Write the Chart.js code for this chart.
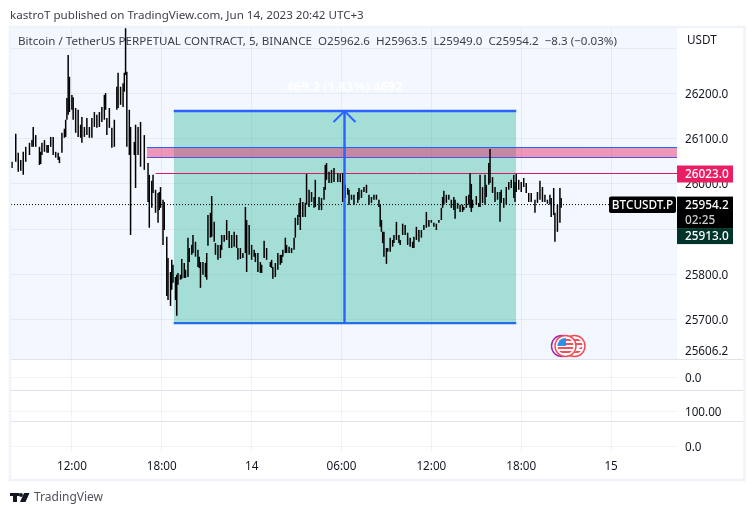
<!DOCTYPE html>
<html><head><meta charset="utf-8">
<style>html,body{margin:0;padding:0;background:#fff}canvas{display:block}</style>
<script src="https://cdn.jsdelivr.net/npm/chart.js@4"></script>
</head><body><canvas id="c" width="755" height="515"></canvas>
<script>
// 5-minute bar number, 0 = Jun 13 12:00
const barIdx=[-48,-45,-43,-41,-39,-37,-34,-32,-31,-29,-26,-25,-24,-22,-20,-19,-17,-15,-13,-11,-10,-8,-6,-5,-4,-3,-2,0,1,3,5,7,8,10,12,14,16,18,20,22,24,26,27,28,30,32,34,36,37,39,41,42,43,44,46,47,50,51,53,55,58,61,62,64,65,67,69,70,71,73,74,76,77,79,80,81,83,84,85,87,88,90,91,93,94,96,97,99,101,102,103,105,107,108,109,111,112,114,115,117,119,120,122,124,126,128,130,132,133,135,137,139,140,142,144,146,147,149,151,152,154,156,159,160,161,163,165,167,168,169,171,172,174,176,178,179,181,182,183,185,187,188,190,192,194,195,198,200,202,203,204,206,208,210,213,215,217,219,221,222,224,226,229,230,232,234,236,238,240,242,244,246,247,248,249,250,252,253,255,257,258,260,262,263,265,267,269,271,273,274,276,278,280,282,284,286,288,290,292,294,296,297,298,300,302,304,306,307,309,311,313,314,316,318,319,320,321,324,326,327,329,331,332,334,335,337,339,341,343,344,346,348,350,352,354,355,356,358,360,362,364,366,368,371,373,375,377,379,381,383,384,386,387,389,391,392];
const highs=[26049,26111,26069,26053,26071,26082,26091,26097,26126,26108,26082,26071,26091,26097,26086,26086,26104,26104,26071,26069,26060,26113,26122,26142,26190,26285,26237,26197,26192,26168,26164,26131,26148,26126,26146,26126,26146,26159,26153,26159,26170,26197,26201,26146,26168,26124,26142,26215,26246,26215,26223,26246,26345,26248,26164,26126,26093,26131,26126,26137,26108,26046,26020,26007,26020,25987,25980,25982,25993,25965,25960,25883,25836,25805,25832,25821,25794,25799,25803,25799,25834,25825,25810,25881,25858,25865,25887,25872,25854,25839,25827,25827,25825,25847,25931,25936,25973,25916,25869,25865,25865,25887,25887,25920,25896,25887,25894,25887,25858,25858,25847,25949,25920,25909,25865,25854,25847,25847,25827,25821,25874,25858,25827,25832,25816,25825,25847,25843,25843,25854,25881,25865,25861,25858,25881,25925,25931,25958,25969,25960,25958,26022,25987,25982,25971,26009,25971,25969,25993,26042,26046,26027,26031,26035,26024,26022,26024,25998,25991,25987,25976,25976,25982,25991,25987,25993,25998,25976,25971,25976,25976,25965,25954,25920,25894,25894,25858,25858,25881,25876,25887,25916,25887,25876,25912,25909,25892,25881,25872,25883,25905,25898,25898,25909,25938,25920,25920,25914,25912,25920,25947,25971,25985,25976,25976,25965,25971,25965,25958,25954,25954,25949,25973,25976,26024,26000,25965,25973,25958,26020,25993,26020,25998,26046,26077,26015,25993,25982,25982,25987,25969,25993,26004,26009,26020,26004,26022,26009,26004,26013,26002,25980,25980,25965,25982,26007,25993,25976,25965,25976,25969,25991,25936,25954,25991,25969];
const lows=[26035,26049,26027,26029,26020,26049,26064,26082,26082,26082,26042,26044,26064,26071,26069,26069,26082,26064,26058,26053,26046,26069,26102,26104,26142,26153,26159,26164,26142,26113,26104,26102,26091,26104,26108,26102,26102,26126,26124,26126,26137,26142,26164,26108,26124,26080,26082,26164,26168,26175,26170,26204,26241,26082,26064,25887,26064,25991,26064,26038,26031,25960,25903,25947,25980,25936,25914,25942,25947,25865,25898,25752,25743,25730,25766,25781,25743,25708,25777,25788,25790,25792,25792,25794,25827,25843,25847,25839,25816,25814,25770,25799,25794,25788,25863,25881,25883,25872,25843,25832,25836,25854,25872,25876,25858,25858,25861,25858,25832,25834,25836,25847,25805,25843,25832,25839,25827,25805,25803,25803,25836,25832,25816,25814,25790,25794,25810,25821,25825,25839,25847,25847,25847,25847,25854,25881,25909,25927,25898,25927,25927,25954,25949,25960,25947,25949,25942,25942,25965,25987,26009,26002,26002,26004,26004,26004,25960,25969,25976,25954,25965,25954,25958,25965,25969,25982,25980,25954,25958,25965,25965,25949,25905,25894,25869,25839,25823,25850,25850,25861,25869,25876,25869,25865,25887,25887,25865,25861,25858,25858,25876,25872,25881,25898,25903,25905,25914,25905,25898,25914,25920,25947,25954,25958,25965,25947,25942,25923,25945,25938,25938,25942,25947,25954,25947,25938,25947,25954,25949,25949,25958,25954,25971,25998,26002,25980,25960,25965,25916,25958,25947,25954,25987,25991,25969,25960,25982,25987,25982,25993,25980,25960,25960,25936,25958,25965,25960,25960,25956,25954,25927,25931,25872,25894,25914,25947];
const priceTicks=[25700,25800,25900,26000,26100,26200];
const timeTickBars=[0,72,144,216,288,360,432];
const timeTickLabels=['12:00','18:00','14','06:00','12:00','18:00','15'];
const zoneStartBar=81.6, zoneEndBar=356, zoneHigh=26161.2, zoneLow=25692, arrowBar=218.4, arrowWingPrice=26137, arrowWingBars=8.8;
const bandHigh=26080.5, bandLow=26058.4, bandStartBar=60;
const resistance=26023, resistanceStartBar=67;
const lastPrice=25954.2, priceLow=25913;
const xMin=-48.8, xMax=484.8, yMin=25612.5, yMax=26345;

const FONT='"Noto Sans"';
const ink='#131722';
function pts(xs,ys){return xs.map((x,i)=>({x,y:ys[i]}));}
function line(xs,ys,extra){return Object.assign({type:'line',data:pts(xs,ys),xAxisID:'x',yAxisID:'y',borderWidth:1,pointRadius:0,tension:0,fill:false},extra);}

const paint={id:'paint',
 beforeDraw(ch){const c=ch.ctx,a=ch.chartArea,s=ch.scales.y;
  c.save();c.fillStyle='#fff';c.fillRect(0,0,755,515);
  c.fillStyle='#f3f7ff';c.fillRect(a.left,s.top,a.right-a.left,s.bottom-s.top);
  c.restore();},
 afterDraw(ch){const c=ch.ctx,a=ch.chartArea,y=ch.scales.y,x=ch.scales.x;
  c.save();
  // pane separators and frame
  c.strokeStyle='#e0e3eb';c.lineWidth=1;
  [y.bottom,ch.scales.y2.bottom,ch.scales.y3.bottom].forEach(v=>{c.beginPath();c.moveTo(a.left,Math.round(v)+.5);c.lineTo(744,Math.round(v)+.5);c.stroke();});
  c.strokeStyle='#f0f3fa';c.lineWidth=2.5;c.strokeRect(10,27,734.5,453);
  c.textBaseline='middle';c.textAlign='left';
  c.font='11.6px '+FONT;c.fillStyle='#3b3f4a';
  c.fillText('kastroT published on TradingView.com, Jun 14, 2023 20:42 UTC+3',10,15.5);
  c.fillText('Bitcoin / TetherUS PERPETUAL CONTRACT, 5, BINANCE  O25962.6  H25963.5  L25949.0  C25954.2  \u22128.3 (\u22120.03%)',18,42);
  c.font='11.7px '+FONT;c.fillStyle=ink;
  c.fillText('USDT',687,41);
  c.fillText('25606.2',685,352);
  // measure label
  c.font='bold 13px '+FONT;c.fillStyle='rgba(255,255,255,.95)';c.textAlign='center';
  c.fillText('469.2 (1.83%) 4692',x.getPixelForValue(arrowBar),87);
  // currency-event icons
  const ey=346;
  c.lineWidth=1.5;c.strokeStyle='#9c27b0';c.fillStyle='#fff';c.beginPath();c.arc(562,ey,10.5,0,7);c.fill();c.stroke();
  c.strokeStyle='#f44a55';c.lineWidth=1.5;c.beginPath();c.arc(574.5,ey,10.5,0,7);c.fill();c.stroke();
  c.beginPath();c.arc(565.5,ey,10.5,0,7);c.fill();c.stroke();
  c.save();c.beginPath();c.arc(565.5,ey,8,0,7);c.clip();
  c.fillStyle='#fff';c.fillRect(556,337,20,18);
  c.fillStyle='#f0525c';[339,343,347,351].forEach(v=>c.fillRect(556,v,20,2));
  c.fillStyle='#2f8fe8';c.fillRect(557,338,9,8);c.restore();
  c.save();c.beginPath();c.arc(574.5,ey,8,0,7);c.arc(565.5,ey,10.5,0,7,true);c.clip('evenodd');
  c.fillStyle='#f0525c';[339,343,347,351].forEach(v=>c.fillRect(570,v,14,2));c.restore();
  // price badges
  const py=v=>y.getPixelForValue(v);
  c.textAlign='left';c.font='500 11.8px '+FONT;
  c.fillStyle='#e91e63';c.fillRect(677,py(resistance)-8,56,17);
  c.fillStyle='#fff';c.fillText(resistance.toFixed(1),685,py(resistance)+1);
  c.fillStyle='#000';c.beginPath();c.roundRect(609,py(lastPrice)-8,67,16.5,2);c.fill();
  c.fillStyle='#fff';c.textAlign='center';c.fillText('BTCUSDT.P',642.5,py(lastPrice)+1);
  c.textAlign='left';
  c.fillStyle='#000';c.fillRect(677,py(lastPrice)-8,56,31.5);
  c.fillStyle='#fff';c.fillText(lastPrice.toFixed(1),685,py(lastPrice)+1);
  c.fillStyle='#ccc';c.fillText('02:25',685,py(lastPrice)+16);
  c.fillStyle='#00332a';c.fillRect(677,py(lastPrice)+23.5,56,16);
  c.fillStyle='#fff';c.fillText(priceLow.toFixed(1),685,py(lastPrice)+32);
  // footer logo and name
  c.fillStyle='#131722';
  c.fillRect(10,493,9.5,3);c.fillRect(13,493,4,9);
  c.beginPath();c.arc(21,495,1.9,0,7);c.fill();
  c.beginPath();c.moveTo(24,493);c.lineTo(29.5,493);c.lineTo(25.5,502);c.lineTo(20,502);c.closePath();c.fill();
  c.fillStyle='#50535e';c.font='12px '+FONT;c.fillText('TradingView',34,497.5);
  c.restore();
 }};

function subScale(min,max,tick,digits,weight){return {type:'linear',position:'right',stack:'p',stackWeight:weight,offset:false,min,max,
  afterBuildTicks:s=>{s.ticks=[{value:tick}];},
  afterFit:s=>{s.width=67;},
  grid:{color:'rgba(42,46,57,.06)',drawTicks:false},border:{display:false},
  ticks:{color:ink,font:{family:FONT,size:11.7},padding:8,labelOffset:1.5,callback:v=>v.toFixed(digits)}};}

new Chart(document.getElementById('c'),{
 data:{datasets:[
  line([xMin,xMax],[lastPrice,lastPrice],{borderColor:'#000',borderDash:[1,2],order:6}),
  line([arrowBar,arrowBar],[zoneLow,zoneHigh],{borderColor:'#2962ff',borderWidth:2.4,order:1}),
  line([arrowBar-arrowWingBars,arrowBar,arrowBar+arrowWingBars],[arrowWingPrice,zoneHigh,arrowWingPrice],{borderColor:'#2962ff',borderWidth:2,order:1}),
  line([zoneStartBar,zoneEndBar],[zoneHigh,zoneHigh],{borderColor:'#2962ff',borderWidth:2.4,fill:'+1',backgroundColor:'rgba(0,171,130,.32)',order:10}),
  line([zoneStartBar,zoneEndBar],[zoneLow,zoneLow],{borderColor:'#2962ff',borderWidth:2.4,order:10}),
  line([bandStartBar,xMax],[bandHigh,bandHigh],{borderColor:'#2962ff',fill:'+1',backgroundColor:'rgba(233,30,99,.45)',order:9}),
  line([bandStartBar,xMax],[bandLow,bandLow],{borderColor:'#2962ff',order:9}),
  line([resistanceStartBar,xMax],[resistance,resistance],{borderColor:'#d81b60',order:8}),
  {type:'bar',label:'BTCUSDT.P',data:barIdx.map((b,i)=>({x:b,y:[lows[i],highs[i]]})),xAxisID:'x',yAxisID:'y',backgroundColor:'#000',barThickness:1.5,inflateAmount:0,grouped:false,order:5}
 ]},
 options:{responsive:false,animation:false,devicePixelRatio:1,
  layout:{padding:{left:11,top:28,right:11,bottom:37}},
  plugins:{legend:{display:false},tooltip:{enabled:false}},
  scales:{
   x:{type:'linear',min:xMin,max:xMax,position:'bottom',offset:false,
    afterBuildTicks:s=>{s.ticks=timeTickBars.map(v=>({value:v}));},
    afterFit:s=>{s.height=26;},
    grid:{color:'rgba(42,46,57,.06)',drawTicks:false,offset:false},border:{display:false},
    ticks:{color:ink,maxRotation:0,autoSkip:false,padding:8,font:{family:FONT,size:11.7},callback:v=>timeTickLabels[timeTickBars.indexOf(v)]}},
   y:{type:'linear',position:'right',stack:'p',stackWeight:331,min:yMin,max:yMax,
    afterBuildTicks:s=>{s.ticks=priceTicks.concat([26300]).map(v=>({value:v}));},
    afterFit:s=>{s.width=67;},
    grid:{color:'rgba(42,46,57,.06)',drawTicks:false},border:{display:false},
    ticks:{color:ink,font:{family:FONT,size:11.7},padding:8,labelOffset:1,callback:v=>v===26300?'':v.toFixed(1)}},
   y2:subScale(-13,18,0,1,31),
   y3:subScale(90,121,100,2,31),
   y4:subScale(-6,25,0,1,31)
  }},
 plugins:[paint]
});
</script></body></html>
